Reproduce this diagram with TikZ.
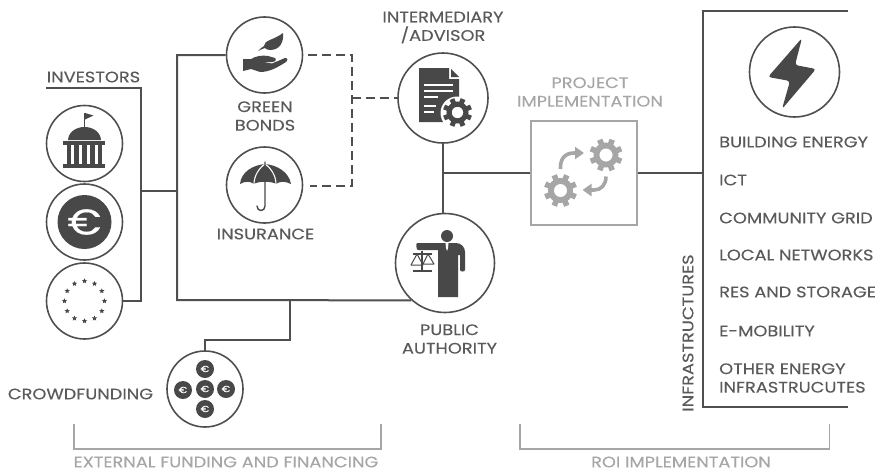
\documentclass[tikz,border=0pt]{standalone}
\usepackage{fontspec}
\setmainfont{Poppins}[FakeStretch=1.17,FakeBold=0.2]
\usetikzlibrary{arrows.meta,calc,shapes.geometric}
\definecolor{darkline}{HTML}{4F4F4F}
\definecolor{darkicon}{HTML}{484848}
\definecolor{darktext}{HTML}{5A5A5A}
\definecolor{lightline}{HTML}{A6A6A6}
\tikzset{
  ringnode/.style={circle,draw=darkline,line width=1.6pt,inner sep=0pt,minimum size=76pt},
  conn/.style={draw=darkline,line width=2pt},
  dashconn/.style={conn,dash pattern=on 9pt off 5pt},
  bracket/.style={draw=lightline,line width=1.8pt},
  label/.style={text=darktext,font=\fontsize{15.2}{18.5}\selectfont,align=center,inner sep=0pt},
  graylabel/.style={label,text=lightline},
  listlabel/.style={label,anchor=west,align=left}
}
\newcommand{\gearat}[4]{
  \begin{scope}[shift={(#1,#2)},scale=#3]
    \fill[#4,even odd rule] (0,0) circle (.76) (0,0) circle (.40);
    \foreach \a in {0,45,...,315}
      \fill[#4,rotate=\a+22.5] (.6,-.17) rectangle (1,.17);
  \end{scope}
}
\begin{document}
\begin{tikzpicture}[x=1pt,y=-1pt]
    \useasboundingbox (0,0) rectangle (877,471);

    \node[ringnode] (bank) at (84.5,143.5) {};
    \node[ringnode] (euro) at (84.5,222) {};
    \node[ringnode] (stars) at (84.5,301) {};
    \node[ringnode] (bonds) at (264.5,55) {};
    \node[ringnode] (insurance) at (264.5,185) {};
    \node[ringnode] (crowd) at (205,389) {};
    \node[ringnode,minimum size=90pt] (advisor) at (443,98) {};
    \node[ringnode,minimum size=99pt] (authority) at (445,263) {};
    \node[ringnode,minimum size=90pt] (energy) at (794.5,72) {};
    \node[draw=lightline,line width=1.8pt,minimum width=106pt,minimum height=104pt,inner sep=0pt] (projectbox) at (584,173) {};

    \coordinate (investstart) at (46,88);
    \coordinate (investcorner) at (141,88);
    \coordinate (investjoin) at (141,191);
    \coordinate (fundjoin) at (177,191);
    \coordinate (busleft) at (177,300);
    \coordinate (busjoin) at (290,300);
    \coordinate (crowdknee) at (290,340);
    \coordinate (dashbonds) at (308,55);
    \coordinate (dashins) at (310,186);
    \coordinate (dashcorner) at (352,186);
    \coordinate (dashmid) at (352,98);
    \coordinate (midjoin) at (443,173);
    \coordinate (infrajoin) at (702.5,173);
    \coordinate (infratop) at (848,11);
    \coordinate (infrabot) at (848,407);
    \coordinate (infracorner) at (702.5,407);

    \draw[conn] (investstart) -- (investcorner) |- (stars.east);
    \draw[conn] (investjoin) -- (fundjoin);
    \draw[conn] (bonds.west) -| (busleft) -- (authority.228);
    \draw[conn] (busjoin) -- (crowdknee) -| (crowd.north);
    \draw[dashconn] (dashbonds) -| (dashcorner) -- (dashins);
    \draw[dashconn] (dashmid) -- (advisor.west);
    \draw[conn] (advisor.south) -- (advisor.south |- authority.north);
    \draw[conn] (midjoin) -- (projectbox.west);
    \draw[conn] (projectbox.east) -- (infrajoin);
    \draw[conn] (infratop) -| (infracorner) -- (infrabot);

    \coordinate (bracka) at (74,424);
    \coordinate (brackb) at (381,424);
    \coordinate (brackc) at (520,424);
    \coordinate (brackd) at (829.5,424);
    \draw[bracket] (bracka) -- ++(0,25) -| (brackb);
    \draw[bracket] (brackc) -- ++(0,25) -| (brackd);

    \node[label] (investlabel) at (93.5,77) {INVESTORS};
    \node[label] (bondslabel) at (265,116) {GREEN\\BONDS};
    \node[label] (inslabel) at (265.5,234) {INSURANCE};
    \node[label] (advisorlabel) at (443,27.5) {INTERMEDIARY\\/ADVISOR};
    \node[graylabel] (projectlabel) at (590,92) {PROJECT\\IMPLEMENTATION};
    \node[label] (authlabel) at (449.5,339) {PUBLIC\\AUTHORITY};
    \node[label] (crowdlabel) at (80.5,394) {CROWDFUNDING};
    \node[graylabel] (extlabel) at (226,462) {EXTERNAL FUNDING AND FINANCING};
    \node[graylabel] (roilabel) at (681,462) {ROI IMPLEMENTATION};
    \node[label,rotate=90] (infralabel) at (688,333) {INFRASTRUCTURES};

    \foreach \y/\t in {142/BUILDING ENERGY,180/ICT,218/COMMUNITY GRID,255/LOCAL NETWORKS,292/RES AND STORAGE,331/E-MOBILITY}
      \node[listlabel] (list\y) at (719,\y) {\t};
    \node[listlabel] (listother) at (719,378) {OTHER ENERGY\\INFRASTRUCUTES};

    % bank
    \fill[darkicon] (83.7,113) rectangle (85.3,128);
    \fill[darkicon] (85,113) -- (93.5,115.5) -- (85,119.5) -- cycle;
    \fill[darkicon] (68,140) .. controls (68.5,132) and (76,127) .. (84.5,127) .. controls (93,127) and (100.5,132) .. (101,140) -- cycle;
    \fill[darkicon] (63,140.5) rectangle (105,144.5);
    \fill[darkicon] (63,164) rectangle (105,168);
    \foreach \x in {69,76.7,84.5,92.2,100}
      \fill[darkicon] (\x-2.3,144) rectangle (\x+2.3,165);

    % euro
    \node[circle,fill=darkicon,minimum size=54pt,inner sep=0pt] (eurodisc) at (84.5,222) {};
    \node[text=white,font=\fontsize{36}{36}\selectfont,inner sep=0pt] (eurosign) at (eurodisc) {€};

    % stars
    \foreach \a in {0,30,...,330}
      \node[star,star points=5,star point ratio=2.2,fill=darkicon,inner sep=0pt,minimum size=5.5pt,name=eustar\a] at ($(84.5,301)+(\a:20)$) {};

    % hand and leaf
    \fill[darkicon] (283,33) .. controls (284,42) and (280,50) .. (270,50) .. controls (267,50) and (266,49) .. (265,48) .. controls (262,49) and (260,50) .. (258,51) .. controls (260,49) and (262,47) .. (264,46) .. controls (264,40) and (274,40) .. (283,33) -- cycle;
    \fill[darkicon] (243,59) -- (251,59) .. controls (256,56) and (262,55) .. (268,56) -- (275,58) .. controls (277,60) and (275,62) .. (272,62) -- (262,62) -- (272,63.5) -- (285,58) .. controls (288,58) and (288,60) .. (286,62) .. controls (278,67) and (270,72) .. (260,72) -- (251,69) -- (243,71) -- cycle;

    % umbrella
    \fill[darkicon] (240,184) .. controls (241,172) and (253,165) .. (265,164) .. controls (277,165) and (289,172) .. (291,184) .. controls (285,181) and (280,181) .. (276,184) .. controls (272,181) and (258,181) .. (254,184) .. controls (250,181) and (245,181) .. (240,184) -- cycle;
    \draw[white,line width=1.1pt] (254,184) .. controls (254,176) and (259,168) .. (265,164) .. controls (271,168) and (276,176) .. (276,184);
    \draw[darkicon,line width=1.4pt,line cap=round] (265,162) -- (265,206) .. controls (265,212) and (257,212) .. (257,206);

    % crowdfunding coins
    \foreach \x/\y/\n in {205/369/a,183/390/b,205/389/c,226/389/d,205/409/e} {
      \node[circle,fill=darkicon,minimum size=18pt,inner sep=0pt] (coin\n) at (\x,\y) {};
      \node[text=white,font=\fontsize{9}{9}\selectfont,inner sep=0pt] (sign\n) at (coin\n) {€};
    }

    % document and gear
    \fill[darkicon] (419,68) -- (449,68) -- (449,79) -- (459,79) -- (459,122) -- (419,122) -- cycle;
    \fill[darkicon] (451,69) -- (459,77) -- (451,77) -- cycle;
    \foreach \y/\e in {85/453,91/453,97/438,106/436,112/434}
      \fill[white] (424,\y-1) rectangle (\e,\y+1);
    \fill[white] (457,113) circle (16.5);
    \gearat{457.5}{112.5}{14.5}{darkicon}

    % person and scales
    \fill[darkicon] (447,236) circle (6);
    \fill[darkicon] (417,243) -- (456,243) .. controls (461,243) and (465,247) .. (465,252) -- (465,270) .. controls (465,272) and (460,272) .. (460,270) -- (460,255) -- (458,255) -- (458,297) -- (438,297) -- (438,250) -- (418,250) .. controls (416,250) and (416,243) .. (417,243) -- cycle;
    \fill[white] (445.5,243) -- (448.5,243) -- (448,248) -- (447,251) -- (446,248) -- cycle;
    \draw[darkicon,line width=1.2pt] (413,254) -- (432,254) (422,250.5) -- (422,270) (413,271) -- (432,271);
    \draw[darkicon,line width=1pt,line join=round] (411,265) -- (417,254) -- (423,265) -- cycle;
    \draw[darkicon,line width=1pt,line join=round] (423,264) -- (428,254) -- (434,264) -- cycle;

    % bolt
    \fill[darkicon,rounded corners=3pt] (802,38) -- (768,77) -- (790,81) -- (782,109) -- (816,69) -- (795,65) -- cycle;

    % project icon
    \gearat{606}{155}{16.5}{lightline}
    \gearat{560.5}{190.5}{16.5}{lightline}
    \draw[lightline,line width=3.6pt,-{Triangle[length=9pt,width=12pt]}] (560.5,169) .. controls (560,160) and (564,153) .. (574,153) -- (584,153);
    \draw[lightline,line width=3.6pt,-{Triangle[length=9pt,width=12pt]}] (606,176.5) .. controls (606,185) and (601,190) .. (594,190) -- (582.5,190);
\end{tikzpicture}
\end{document}
